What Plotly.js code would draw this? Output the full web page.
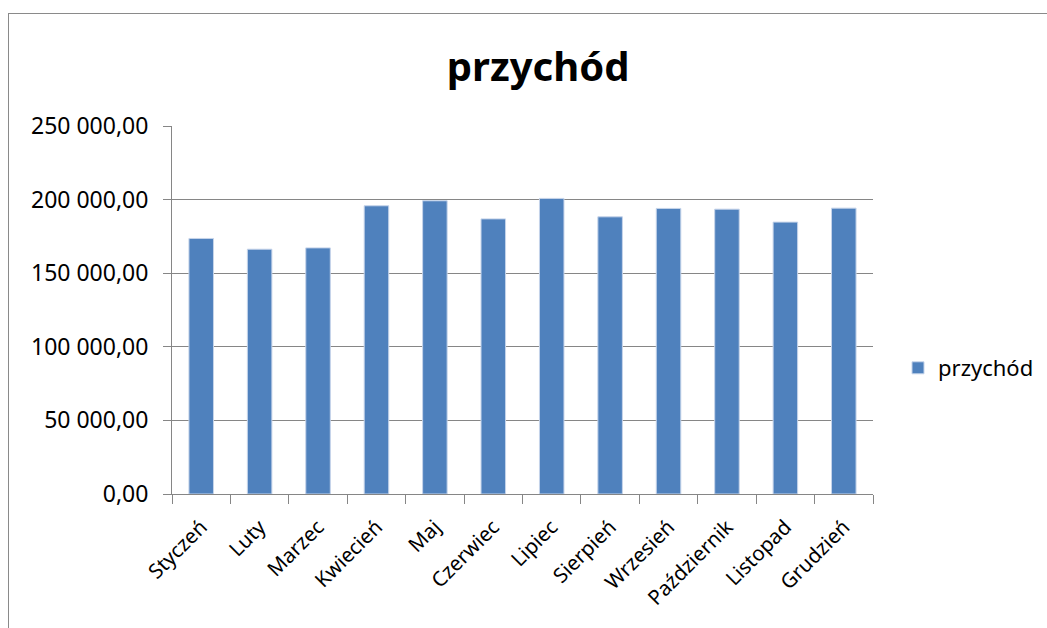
<!DOCTYPE html>
<html><head><meta charset="utf-8">
<script src="https://cdn.plot.ly/plotly-3.0.1.min.js"></script>
<style>
body{margin:0;padding:0;background:#fff;overflow:hidden}
#chart{width:1047px;height:628px;position:absolute;left:0;top:0}
#frame{position:absolute;left:8px;top:13px;width:1100px;height:700px;border:1px solid #8a8a8a;pointer-events:none}
</style></head>
<body>
<div id="chart"></div>
<div id="frame"></div>
<script>
const months = ["Styczeń","Luty","Marzec","Kwiecień","Maj","Czerwiec","Lipiec","Sierpień","Wrzesień","Październik","Listopad","Grudzień"];
const przychod = [173600,166300,167200,195800,199200,186900,200800,188300,194000,193500,184700,194200];
const seriesName = "przychód";
const yTicks = [0,50000,100000,150000,200000,250000];

const font = "Noto Sans, Liberation Sans, sans-serif";
Plotly.newPlot("chart", [{
  type: "bar",
  x: months,
  y: przychod,
  name: seriesName,
  marker: {color: "#4F81BD", line: {color: "#c6d4ea", width: 1}},
  showlegend: true
}], {
  width: 1047, height: 628,
  margin: {l: 172, r: 174, t: 126, b: 134},
  separators: ", ",
  paper_bgcolor: "rgba(0,0,0,0)",
  plot_bgcolor: "#fff",
  bargap: 0.58,
  title: {text: "<b>przychód</b>", font: {family: font, size: 40, color: "#000"}, x: 0.514, xanchor: "center", y: 0.893, yanchor: "middle"},
  xaxis: {
    type: "category",
    tickangle: -45,
    ticks: "outside", tickson: "boundaries", ticklen: 9, tickcolor: "#868686",
    ticklabelstandoff: 12,
    showline: true, linecolor: "#868686", linewidth: 1,
    tickfont: {family: font, size: 20.5, color: "#000"},
    showgrid: false
  },
  yaxis: {
    range: [0, 250000],
    tickvals: yTicks,
    tickformat: ",.2f",
    ticks: "outside", ticklen: 8, tickcolor: "#868686",
    ticklabelstandoff: 10,
    showline: true, linecolor: "#868686", linewidth: 1,
    showgrid: true, gridcolor: "#868686", gridwidth: 1,
    zeroline: false,
    tickfont: {family: font, size: 23, color: "#000"}
  },
  legend: {xref: "container", yref: "container", x: 0.8577, xanchor: "left", y: 0.414, yanchor: "middle", font: {family: font, size: 22, color: "#000"}, itemwidth: 30},
}, {displayModeBar: false, staticPlot: true});
</script>
</body></html>
